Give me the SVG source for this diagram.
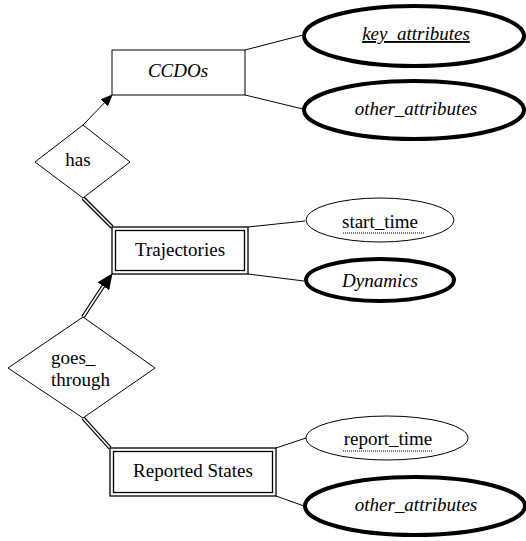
<svg xmlns="http://www.w3.org/2000/svg" width="526" height="541" viewBox="0 0 526 541">
<style>
.ln{stroke:#000;stroke-width:1;fill:none}
.ent{fill:#fff;stroke:#000;stroke-width:1}
.dbl{fill:none;stroke:#000;stroke-width:1.3}
.thin{fill:#fff;stroke:#000;stroke-width:1}
.thick{fill:#fff;stroke:#000;stroke-width:4}
.dout{stroke:#000;stroke-width:4;fill:none}
.din{stroke:#fff;stroke-width:1.6;fill:none}
.dot{stroke:#000;stroke-width:1;stroke-dasharray:1,1}
</style>
<defs>
<marker id="ah" markerWidth="12" markerHeight="10" refX="11" refY="5" orient="auto" markerUnits="userSpaceOnUse">
<path d="M0,0 L12,5 L0,10 Z" fill="#000"/>
</marker>
<marker id="ah2" markerWidth="16" markerHeight="14" refX="15" refY="7" orient="auto" markerUnits="userSpaceOnUse">
<path d="M0,0 L16,7 L0,14 Z" fill="#000"/>
</marker>
</defs>
<g id="connectors">
<line class="ln" x1="245" y1="50" x2="303" y2="35"/>
<line class="ln" x1="245" y1="95" x2="303" y2="109"/>
<line class="ln" x1="248" y1="227" x2="305" y2="221"/>
<line class="ln" x1="248" y1="274" x2="304" y2="281"/>
<line class="ln" x1="276" y1="448" x2="306" y2="438"/>
<line class="ln" x1="276" y1="496" x2="304" y2="506"/>
<line class="ln" x1="83" y1="125" x2="112" y2="95" stroke-width="1.3" marker-end="url(#ah)"/>
<line class="dout" x1="83" y1="198" x2="112" y2="227"/>
<line class="din" x1="83" y1="198" x2="112" y2="227"/>
<line class="dout" x1="83" y1="317" x2="104" y2="285"/>
<line class="din" x1="83" y1="317" x2="104" y2="285"/>
<line x1="100" y1="291" x2="112" y2="274" stroke="none" marker-end="url(#ah2)"/>
<line class="dout" x1="83" y1="418" x2="110" y2="448"/>
<line class="din" x1="83" y1="418" x2="110" y2="448"/>
</g>
<g id="ccdos">
<rect class="ent" x="112" y="50" width="133" height="45"/>
<text style="font-family:'Liberation Serif',serif;font-size:19px;font-style:italic" text-anchor="middle" x="178" y="77">CCDOs</text>
</g>
<g id="key_attributes">
<ellipse class="thick" cx="414" cy="36" rx="110" ry="30"/>
<text style="font-family:'Liberation Serif',serif;font-size:19px;font-style:italic" text-anchor="middle" x="416" y="40" text-decoration="underline">key_attributes</text>
</g>
<g id="other_attributes_1">
<ellipse class="thick" cx="414" cy="110" rx="110" ry="29"/>
<text style="font-family:'Liberation Serif',serif;font-size:19px;font-style:italic" text-anchor="middle" x="416" y="115">other_attributes</text>
</g>
<g id="has">
<polygon class="ent" points="83,125 130,162 83,198 35,162"/>
<text style="font-family:'Liberation Serif',serif;font-size:19px" text-anchor="middle" x="78" y="166">has</text>
</g>
<g id="trajectories">
<rect class="dbl" x="112" y="227" width="136" height="47" fill="#fff"/>
<rect class="dbl" x="115.5" y="230.5" width="129" height="40"/>
<text style="font-family:'Liberation Serif',serif;font-size:19px" text-anchor="middle" x="180" y="256">Trajectories</text>
</g>
<g id="start_time">
<ellipse class="thin" cx="380" cy="220" rx="74" ry="22"/>
<text style="font-family:'Liberation Serif',serif;font-size:19px" text-anchor="middle" x="380" y="228">start_time</text>
<line class="dot" x1="343" y1="233" x2="424" y2="233"/>
</g>
<g id="dynamics">
<ellipse class="thick" cx="380" cy="280" rx="74" ry="21"/>
<text style="font-family:'Liberation Serif',serif;font-size:19px;font-style:italic" text-anchor="middle" x="380" y="287">Dynamics</text>
</g>
<g id="goes_through">
<polygon class="ent" points="83,317 155,368 83,418 8,368"/>
<text style="font-family:'Liberation Serif',serif;font-size:19px" x="51" y="364">goes_</text>
<text style="font-family:'Liberation Serif',serif;font-size:19px" x="51" y="386">through</text>
</g>
<g id="reported_states">
<rect class="dbl" x="110" y="448" width="166" height="48" fill="#fff"/>
<rect class="dbl" x="113.5" y="451.5" width="159" height="41"/>
<text style="font-family:'Liberation Serif',serif;font-size:19px" text-anchor="middle" x="193" y="477">Reported States</text>
</g>
<g id="report_time">
<ellipse class="thin" cx="387" cy="438" rx="81" ry="22"/>
<text style="font-family:'Liberation Serif',serif;font-size:19px" text-anchor="middle" x="388" y="445">report_time</text>
<line class="dot" x1="343" y1="451" x2="433" y2="451"/>
</g>
<g id="other_attributes_2">
<ellipse class="thick" cx="415" cy="506" rx="110" ry="29"/>
<text style="font-family:'Liberation Serif',serif;font-size:19px;font-style:italic" text-anchor="middle" x="416" y="511">other_attributes</text>
</g>
</svg>
